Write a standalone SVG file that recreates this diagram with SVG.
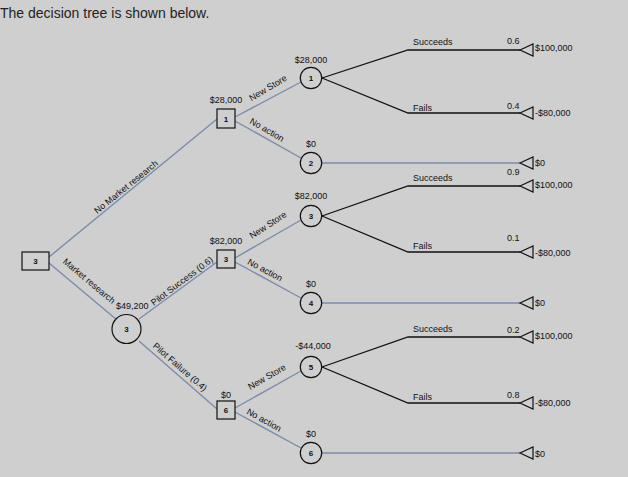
<svg xmlns="http://www.w3.org/2000/svg" width="628" height="477" viewBox="0 0 628 477">
<defs>
<style>
text{font-family:"Liberation Sans",Arial,sans-serif;fill:#111}
.t{font-size:9px}
.n{font-size:8px;font-weight:bold;text-anchor:middle}
.v{font-size:9px;text-anchor:middle}
.r{font-size:9px;text-anchor:middle}
.dec{stroke:#7b8cab;stroke-width:1.4;fill:none}
.ch{stroke:#111;stroke-width:1.3;fill:none}
.box{fill:#cfcfcf;stroke:#111;stroke-width:1.2}
.tri{fill:#cfcfcf;stroke:#111;stroke-width:1.2}
</style>
<polygon id="tri" class="tri" points="0,0 13,-6 13,6"/>
</defs>
<rect width="628" height="477" fill="#cfcfcf"/>
<text x="0" y="18" style="font-size:14px;fill:#222">The decision tree is shown below.</text>

<g id="connectors">
<line class="dec" x1="49" y1="257" x2="217" y2="119"/>
<line class="dec" x1="49" y1="263" x2="117" y2="320"/>
<line class="dec" x1="139" y1="319" x2="217" y2="262"/>
<line class="dec" x1="139" y1="341" x2="217" y2="409"/>
<line class="dec" x1="235" y1="117" x2="301" y2="82"/>
<line class="dec" x1="235" y1="121" x2="301" y2="158"/>
<line class="dec" x1="322" y1="163" x2="520" y2="163"/>
<line class="dec" x1="235" y1="258" x2="301" y2="220"/>
<line class="dec" x1="235" y1="262" x2="301" y2="298"/>
<line class="dec" x1="322" y1="303" x2="520" y2="303"/>
<line class="dec" x1="235" y1="408" x2="301" y2="371"/>
<line class="dec" x1="235" y1="412" x2="301" y2="448"/>
<line class="dec" x1="322" y1="453" x2="520" y2="453"/>
<polyline class="ch" points="322,78 408,50 520,50"/>
<polyline class="ch" points="322,78 408,113 520,113"/>
<polyline class="ch" points="322,216 408,186 520,186"/>
<polyline class="ch" points="322,216 408,252 520,252"/>
<polyline class="ch" points="322,367 408,337 520,337"/>
<polyline class="ch" points="322,367 408,403 520,403"/>
<text class="r" transform="translate(126,187) rotate(-39)" y="3">No Market research</text>
<text class="r" transform="translate(89,281) rotate(40)" y="3">Market research</text>
<text class="r" transform="translate(182,281) rotate(-37)" y="3">Pilot Success (0.6)</text>
<text class="r" transform="translate(180,367) rotate(41)" y="3">Pilot Failure (0.4)</text>
<text class="r" transform="translate(268,88) rotate(-31)" y="3">New Store</text>
<text class="r" transform="translate(267,130) rotate(30)" y="3">No action</text>
<text class="r" transform="translate(268,225) rotate(-33)" y="3">New Store</text>
<text class="r" transform="translate(265,270) rotate(28)" y="3">No action</text>
<text class="r" transform="translate(267,377) rotate(-30)" y="3">New Store</text>
<text class="r" transform="translate(264,420) rotate(29)" y="3">No action</text>
<text class="t" x="413" y="45">Succeeds</text>
<text class="t" x="507" y="44">0.6</text>
<text class="t" x="413" y="111">Fails</text>
<text class="t" x="507" y="109">0.4</text>
<text class="t" x="413" y="181">Succeeds</text>
<text class="t" x="507" y="175">0.9</text>
<text class="t" x="413" y="249">Fails</text>
<text class="t" x="507" y="241">0.1</text>
<text class="t" x="413" y="332">Succeeds</text>
<text class="t" x="507" y="333">0.2</text>
<text class="t" x="413" y="400">Fails</text>
<text class="t" x="507" y="398">0.8</text>
</g>

<g id="root">
<rect class="box" x="22" y="252" width="27" height="18"/>
<text class="n" x="35.5" y="264">3</text>
</g>
<g id="chance3">
<circle class="box" cx="126.5" cy="329" r="14.5"/>
<text class="n" x="126.5" y="332">3</text>
<text class="t" x="116" y="309">$49,200</text>
</g>
<g id="decision1">
<rect class="box" x="217" y="109" width="18" height="19"/>
<text class="n" x="226" y="121.5">1</text>
<text class="v" x="226" y="103">$28,000</text>
</g>
<g id="decision3">
<rect class="box" x="217" y="250" width="18" height="18"/>
<text class="n" x="226" y="262">3</text>
<text class="v" x="226" y="244">$82,000</text>
</g>
<g id="decision6">
<rect class="box" x="217" y="401" width="18" height="18"/>
<text class="n" x="226" y="413">6</text>
<text class="v" x="226" y="398">$0</text>
</g>
<g id="chance1">
<circle class="box" cx="311" cy="78" r="10.7"/>
<text class="n" x="311" y="81">1</text>
<text class="v" x="311" y="63">$28,000</text>
</g>
<g id="chance2">
<circle class="box" cx="311" cy="163" r="10.7"/>
<text class="n" x="311" y="166">2</text>
<text class="v" x="311" y="147">$0</text>
</g>
<g id="chance3b">
<circle class="box" cx="311" cy="216" r="10.7"/>
<text class="n" x="311" y="219">3</text>
<text class="v" x="311" y="199">$82,000</text>
</g>
<g id="chance4">
<circle class="box" cx="311" cy="303" r="10.7"/>
<text class="n" x="311" y="306">4</text>
<text class="v" x="311" y="287">$0</text>
</g>
<g id="chance5">
<circle class="box" cx="311" cy="367" r="10.7"/>
<text class="n" x="311" y="370">5</text>
<text class="v" x="313" y="349">-$44,000</text>
</g>
<g id="chance6">
<circle class="box" cx="311" cy="453" r="10.7"/>
<text class="n" x="311" y="456">6</text>
<text class="v" x="311" y="437">$0</text>
</g>

<g id="end1"><use href="#tri" x="520" y="50"/><text class="t" x="535" y="51">$100,000</text></g>
<g id="end2"><use href="#tri" x="520" y="113"/><text class="t" x="535" y="116">-$80,000</text></g>
<g id="end3"><use href="#tri" x="520" y="163"/><text class="t" x="535" y="166">$0</text></g>
<g id="end4"><use href="#tri" x="520" y="186"/><text class="t" x="535" y="188">$100,000</text></g>
<g id="end5"><use href="#tri" x="520" y="252"/><text class="t" x="535" y="256">-$80,000</text></g>
<g id="end6"><use href="#tri" x="520" y="303"/><text class="t" x="535" y="306">$0</text></g>
<g id="end7"><use href="#tri" x="520" y="337"/><text class="t" x="535" y="339">$100,000</text></g>
<g id="end8"><use href="#tri" x="520" y="403"/><text class="t" x="535" y="406">-$80,000</text></g>
<g id="end9"><use href="#tri" x="520" y="453"/><text class="t" x="535" y="457">$0</text></g>
</svg>
